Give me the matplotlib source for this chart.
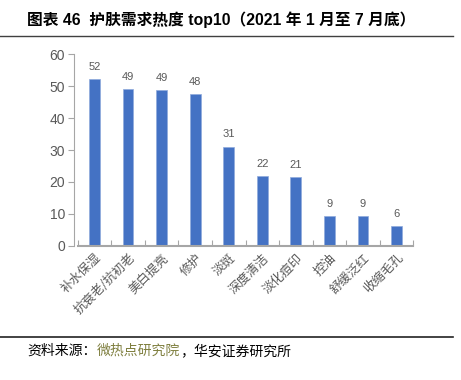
import matplotlib.pyplot as plt
import numpy as np

plt.rcParams['font.family'] = ['Liberation Sans', 'Noto Sans CJK SC', 'DejaVu Sans']

categories = ["补水保湿", "抗衰老/抗初老", "美白提亮", "修护", "淡斑",
              "深度清洁", "淡化痘印", "控油", "舒缓泛红", "收缩毛孔"]
values = [52.4, 49.1, 48.7, 47.7, 31.1, 22.0, 21.4, 9.3, 9.3, 6.2]
labels = ["52", "49", "49", "48", "31", "22", "21", "9", "9", "6"]

gray = "#595959"
fig = plt.figure(figsize=(4.61, 3.8), dpi=100)
ax = fig.add_axes([0.1686, 0.3534, 0.7279, 0.5036])

x = np.arange(len(categories))
bars = ax.bar(x, values, width=0.32, color="#4472C4", edgecolor="#8FAADC", linewidth=0.5)
for b, lab in zip(bars, labels):
    ax.text(b.get_x() + b.get_width() / 2, b.get_height() + 2.2, lab,
            ha="center", va="bottom", fontsize=8, color=gray)

ax.set_xlim(-0.5, len(categories) - 0.5)
ax.set_ylim(0, 60)
ax.set_yticks(range(0, 61, 10))
ax.set_xticks(np.arange(-0.5, len(categories), 1.0))
ax.set_xticklabels([])
ax.set_xticks(x, minor=True)
ax.set_xticklabels(categories, minor=True, rotation=45, ha="right", va="top",
                   rotation_mode="anchor", fontsize=9, color=gray,
                   family=['Noto Sans CJK SC', 'DejaVu Sans'])
ax.tick_params(axis="x", which="minor", length=0, pad=4)
ax.tick_params(axis="x", which="major", length=4, direction="in", color="#A6A6A6")
ax.tick_params(axis="y", length=4, direction="out", color="#A6A6A6",
               labelsize=10, labelcolor=gray, pad=2)
for s in ["top", "right"]:
    ax.spines[s].set_visible(False)
ax.spines["left"].set_color("#A6A6A6")
ax.spines["bottom"].set_color("#A6A6A6")
ax.spines["bottom"].set_linewidth(1.5)
ax.spines["left"].set_position(("outward", 3))

fig.text(27 / 461, 1 - 20 / 380, "图表 46  护肤需求热度 top10（2021 年 1 月至 7 月底）",
         fontsize=11.3, fontweight="bold", va="center", ha="left",
         family=['Liberation Sans', 'Noto Sans CJK SC'])
fig.add_artist(plt.Line2D([0, 453 / 461], [1 - 36 / 380] * 2, color="#404040", lw=1))
fig.add_artist(plt.Line2D([0, 453 / 461], [1 - 337 / 380] * 2, color="#222222", lw=1.2))

src_y = 1 - 351 / 380
t1 = fig.text(27 / 461, src_y, "资料来源：", fontsize=10, va="center", ha="left",
              family=['Noto Sans CJK SC'])
fig.canvas.draw()
r = fig.canvas.get_renderer()
bb = t1.get_window_extent(r)
t2 = fig.text(bb.x1 / fig.bbox.width, src_y, "微热点研究院", fontsize=10, va="center",
              ha="left", color="#7F7F3F", family=['Noto Sans CJK SC'])
bb2 = t2.get_window_extent(r)
fig.text(bb2.x1 / fig.bbox.width, src_y, "，华安证券研究所", fontsize=10, va="center",
         ha="left", family=['Noto Sans CJK SC'])

fig.savefig("out.png", dpi=100)
